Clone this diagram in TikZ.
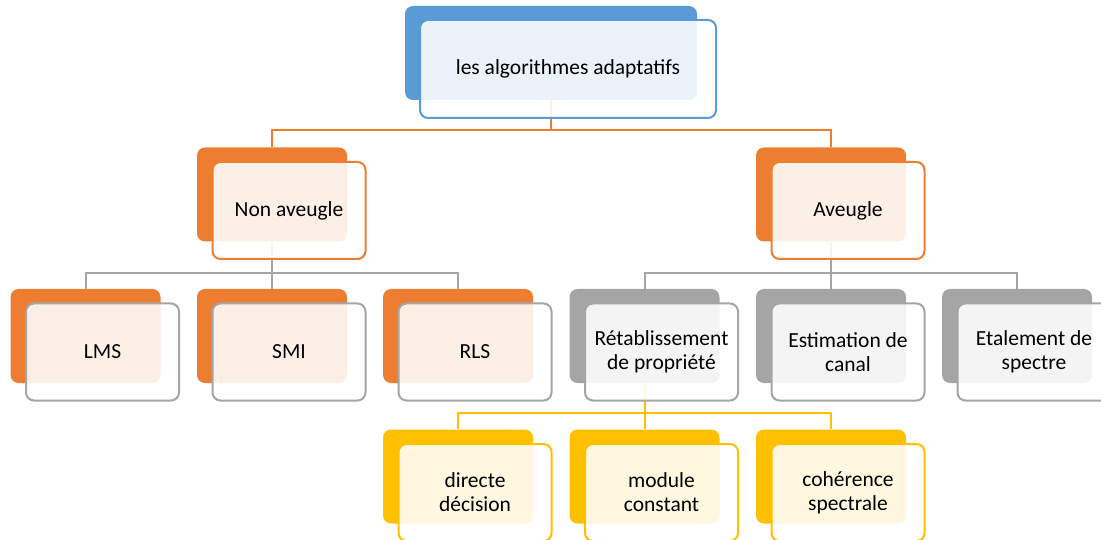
\documentclass[tikz,border=0pt]{standalone}
\usepackage{fontspec}
\setmainfont{Carlito}
\begin{document}
\begin{tikzpicture}[x=1pt,y=-1pt,
  back/.style={rounded corners=8pt, inner sep=0pt, minimum width=150pt, minimum height=94pt, fill=#1},
  front/.style={rounded corners=8pt, draw=#1, line width=2pt, fill=white, fill opacity=0.88,
    text opacity=1, inner sep=0pt, minimum width=153pt, minimum height=97pt, align=center,
    font=\fontsize{21.5}{24}\selectfont},
  link/.style={draw=#1, line width=2pt}]
\definecolor{cblue}{HTML}{5B9BD5}
\definecolor{corange}{HTML}{ED7D31}
\definecolor{cgray}{HTML}{A5A5A5}
\definecolor{cyellow}{HTML}{FFC000}
\useasboundingbox (0,0) rectangle (1101,540);
\clip (0,0) rectangle (1101,540);

% coloured back plates
\node[back=cblue, minimum width=292pt] (root) at (551,53) {};
\node[back=corange] (nav) at (272,194.5) {};
\node[back=corange] (av) at (831,194.5) {};
\node[back=corange] (lms) at (85.5,336) {};
\node[back=corange] (smi) at (272,336) {};
\node[back=corange] (rls) at (458,336) {};
\node[back=cgray] (ret) at (644.5,336) {};
\node[back=cgray] (est) at (831,336) {};
\node[back=cgray] (eta) at (1017,336) {};
\node[back=cyellow] (dd) at (458,476.5) {};
\node[back=cyellow] (mc) at (644.5,476.5) {};
\node[back=cyellow] (cs) at (831,476.5) {};

% tree connectors
\draw[link=corange] (root.south) -- ++(0,30) coordinate (b0) -| (nav.north);
\draw[link=corange] (b0) -| (av.north);
\draw[link=cgray] (nav.south) -- ++(0,31) coordinate (b1) -| (lms.north);
\draw[link=cgray] (b1) -| (smi.north);
\draw[link=cgray] (b1) -| (rls.north);
\draw[link=cgray] (av.south) -- ++(0,31) coordinate (b2) -| (ret.north);
\draw[link=cgray] (b2) -| (est.north);
\draw[link=cgray] (b2) -| (eta.north);
\draw[link=cyellow] (ret.south) -- ++(0,30) coordinate (b3) -| (dd.north);
\draw[link=cyellow] (b3) -| (mc.north);
\draw[link=cyellow] (b3) -| (cs.north);

% text panels
\node[front=cblue, minimum width=296pt, minimum height=98pt] (rootf) at ([shift={(17,16)}]root.center) {les algorithmes adaptatifs};
\node[front=corange] (navf) at ([shift={(17,16)}]nav.center) {Non aveugle};
\node[front=corange] (avf) at ([shift={(17,16)}]av.center) {Aveugle};
\node[front=cgray] (lmsf) at ([shift={(17,16)}]lms.center) {LMS};
\node[front=cgray] (smif) at ([shift={(17,16)}]smi.center) {SMI};
\node[front=cgray] (rlsf) at ([shift={(17,16)}]rls.center) {RLS};
\node[front=cgray] (retf) at ([shift={(17,16)}]ret.center) {Rétablissement\\de propriété};
\node[front=cgray] (estf) at ([shift={(17,16)}]est.center) {Estimation de\\canal};
\node[front=cgray] (etaf) at ([shift={(17,16)}]eta.center) {Etalement de\\spectre};
\node[front=cyellow] (ddf) at ([shift={(17,16)}]dd.center) {directe\\décision};
\node[front=cyellow] (mcf) at ([shift={(17,16)}]mc.center) {module\\constant};
\node[front=cyellow] (csf) at ([shift={(17,16)}]cs.center) {cohérence\\spectrale};
\end{tikzpicture}
\end{document}
